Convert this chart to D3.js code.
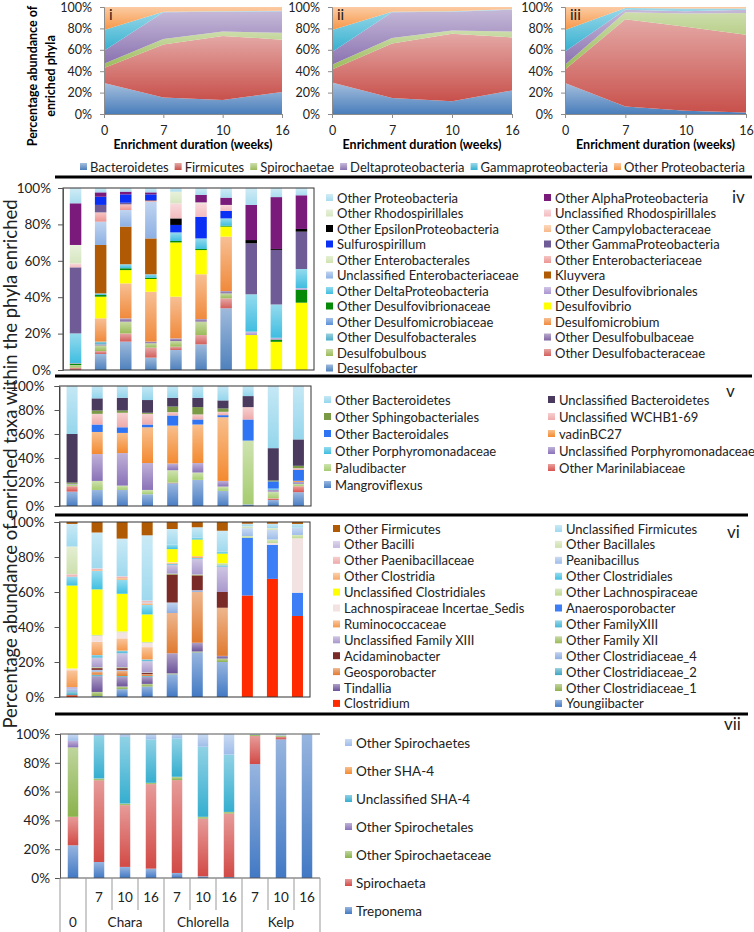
<!DOCTYPE html>
<html>
<head>
<meta charset="utf-8">
<script src="https://cdnjs.cloudflare.com/ajax/libs/d3/7.8.5/d3.min.js"></script>
<style>
body { margin: 0; background: #fff; }
svg { font-family: Lato, "Open Sans", sans-serif; }
</style>
</head>
<body>
<svg id="chart" width="754" height="932"></svg>
<script>

// ---- top area charts (phyla) ----
const weeks = ["0", "7", "10", "16"];
const phyla = ["Bacteroidetes", "Firmicutes", "Spirochaetae", "Deltaproteobacteria", "Gammaproteobacteria", "Other Proteobacteria"];
const phylaColors = ["#4a7ebb", "#c8504b", "#9bbb59", "#8a72b0", "#35b0d0", "#f79646"];

const phylaI = [
    [29, 15.5, 13, 20.5],
    [14, 49.5, 60, 49],
    [4, 5, 4, 6.5],
    [12, 25, 18.5, 20],
    [19.5, 0.5, 0.5, 0.5],
    [21.5, 4.5, 4, 3.5],
];
const phylaII = [
    [29.5, 15, 12, 22],
    [12, 51, 63, 49.5],
    [4.5, 5, 3, 5.5],
    [12, 24, 17.5, 20.5],
    [20.5, 0.5, 0.5, 0.5],
    [21.5, 4.5, 4, 2],
];
const phylaIII = [
    [29, 7, 3, 1.5],
    [12.5, 81.5, 78.5, 72.5],
    [4.5, 6.5, 12.5, 20.5],
    [12.5, 2.5, 2, 3],
    [20, 1.5, 2.5, 1],
    [21.5, 1, 1.5, 1.5],
];

// ---- bar panels ----
const samples = ["0", "Chara 7", "Chara 10", "Chara 16", "Chlorella 7", "Chlorella 10", "Chlorella 16", "Kelp 7", "Kelp 10", "Kelp 16"];
const weekLabels = ["", "7", "10", "16", "7", "10", "16", "7", "10", "16"];
const groupNames = ["0", "Chara", "Chlorella", "Kelp"];
const groupSizes = [1, 3, 3, 3];

// panel iv, stack order bottom -> top
const ivNames = ["Desulfobacter", "Other Desulfobacteraceae", "Desulfobulbous", "Other Desulfobulbaceae",
    "Other Desulfobacterales", "Desulfomicrobium", "Other Desulfomicrobiaceae", "Desulfovibrio",
    "Other Desulfovibrionaceae", "Other Desulfovibrionales", "Other DeltaProteobacteria", "Kluyvera",
    "Unclassified Enterobacteriaceae", "Other Enterobacteriaceae", "Other Enterobacterales",
    "Other GammaProteobacteria", "Sulfurospirillum", "Other Campylobacteraceae", "Other EpsilonProteobacteria",
    "Unclassified Rhodospirillales", "Other Rhodospirillales", "Other AlphaProteobacteria", "Other Proteobacteria"];
const ivColors = ["#4f81bd", "#d25f5c", "#9bbb59", "#8064a2", "#4bacc6", "#f08a3c", "#5b8fd8", "#ffff00",
    "#078a07", "#a994d0", "#3fbde0", "#b05a05", "#8db0e3", "#ec9592", "#cfe3b0", "#6f5b95", "#0b30f5",
    "#f9b888", "#000000", "#f3bcbf", "#d6e6c0", "#7a1a7b", "#a9dcef"];
const ivValues = [
    [0, 8.8, 15.6, 6.8, 11.0, 14.1, 33.9, 0, 0, 0],
    [1.3, 1.6, 4.5, 5.5, 1.8, 5.1, 5.5, 0, 0, 0],
    [1.4, 3.1, 6.5, 2.4, 3.1, 7.4, 2.7, 0, 0, 0],
    [0, 0.6, 1.8, 0.9, 1.5, 1.4, 1.3, 0, 0, 0],
    [0, 1.5, 0, 0, 0, 0, 0, 0, 0, 0],
    [0, 12.8, 19.2, 27.4, 22.9, 24.6, 29.9, 0, 0, 0],
    [0, 0, 0, 0, 0, 0, 0, 0, 0, 0],
    [0, 11.9, 7.3, 7.0, 29.8, 13.3, 5.5, 19.2, 15.5, 37],
    [0.8, 0.9, 1.0, 0.7, 0.8, 0.6, 0.5, 0, 1.2, 7],
    [0.3, 0, 0, 0, 0, 0, 0, 1.9, 1.0, 1],
    [16.3, 0.9, 2.2, 1.9, 4.7, 5.8, 4.0, 20.5, 18.3, 10.5],
    [0, 26.6, 20.7, 19.7, 0, 0, 0, 0, 0, 0],
    [0, 12.8, 9.1, 20.2, 0, 0, 0, 0, 0, 0],
    [0, 5.1, 3.1, 0.4, 0, 0, 0, 0, 0, 0],
    [0, 0, 0, 0, 0, 0, 0, 0, 0, 0],
    [36.3, 4.1, 0.9, 0.5, 0, 0, 0, 28.0, 30, 20.5],
    [0, 4.5, 4.6, 3.1, 4.1, 11.9, 4.1, 0, 0, 0],
    [0, 0, 0, 0, 0, 0, 0, 0, 0, 0],
    [0, 0, 0, 0, 3.6, 0, 0, 1.8, 0.5, 1.5],
    [2.2, 0, 0, 0, 8.3, 7.4, 3.3, 0, 0, 0],
    [10.1, 0, 0, 0, 6.4, 0.5, 0, 0, 0, 0],
    [22.9, 2.4, 1.5, 1.1, 0, 4.1, 4.0, 19.3, 28.5, 18.5],
    [8.4, 2.4, 2.0, 2.4, 2.0, 3.8, 5.3, 9.3, 5.0, 4.0],
];

// panel v
const vNames = ["Mangroviflexus", "Other Marinilabiaceae", "Paludibacter", "Unclassified Porphyromonadaceae",
    "Other Porphyromonadaceae", "vadinBC27", "Other Bacteroidales", "Unclassified WCHB1-69",
    "Other Sphingobacteriales", "Unclassified Bacteroidetes", "Other Bacteroidetes"];
const vColors = ["#4a7ec4", "#d9534f", "#a6cc70", "#8a72b8", "#3fbde0", "#f38a30", "#2f74f2", "#efaaaa",
    "#7a9a45", "#4a3b5e", "#95d6ec"];
const vValues = [
    [12, 13.4, 13.4, 9.8, 19.0, 21.8, 12.6, 1.4, 5.0, 11.5],
    [4.5, 0, 0, 0, 0.5, 0, 0, 0, 1.4, 5],
    [1.5, 7.5, 3.6, 3.6, 10.3, 6.1, 3.6, 53.1, 5.6, 2],
    [0.5, 22.4, 27.1, 22.4, 5.6, 7.9, 4.7, 0, 1.5, 1.5],
    [0, 0, 0, 0, 0, 0, 0, 0, 1.0, 0],
    [0, 18.4, 16.8, 29.8, 31.6, 32.1, 53.1, 0, 0, 1],
    [0, 6.2, 4.7, 2.3, 8.4, 4.2, 1.7, 17.6, 6.0, 9],
    [0, 8.9, 12.1, 8.9, 2.8, 4.2, 2.8, 10.3, 0, 1.5],
    [1, 2.8, 1.9, 0.9, 4.7, 6.1, 2.8, 0, 0.8, 2],
    [40.5, 10.1, 10.6, 10.6, 7.3, 7.8, 6.7, 9.2, 26.9, 22],
    [40, 10.3, 9.8, 11.7, 9.8, 9.8, 12.0, 8.4, 51.8, 44.5],
];

// panel vi
const viNames = ["Youngiibacter", "Clostridium", "Other Clostridiaceae_1", "Tindallia", "Other Clostridiaceae_2",
    "Geosporobacter", "Other Clostridiaceae_4", "Acidaminobacter", "Other Family XII", "Unclassified Family XIII",
    "Other FamilyXIII", "Ruminococcaceae", "Anaerosporobacter", "Lachnospiraceae Incertae_Sedis",
    "Other Lachnospiraceae", "Unclassified Clostridiales", "Other Clostridiales", "Other Clostridia",
    "Peanibacillus", "Other Paenibacillaceae", "Other Bacillales", "Other Bacilli", "Unclassified Firmicutes",
    "Other Firmicutes"];
const viColors = ["#4279c4", "#ff2a00", "#8fb04c", "#6c5399", "#3ea6c0", "#e07a30", "#8eaee0", "#7b2b27",
    "#9bbb59", "#a898cc", "#45b6d6", "#f4984c", "#3b7ef5", "#f3e2e2", "#bcd890", "#ffff00", "#40c0e2",
    "#f7a96a", "#9fbde9", "#efa8a8", "#cde0ae", "#c3b7dd", "#9fd9ee", "#b05a04"];
const viValues = [
    [0, 0.6, 4.5, 6.0, 13.0, 25.5, 20.0, 0, 0, 0],
    [1.0, 0, 0, 0, 0, 0, 0, 58.0, 67.5, 46.3],
    [0, 2.3, 1.5, 1.5, 0.5, 0.5, 2.0, 0, 0, 0],
    [0, 9.0, 5.5, 4.0, 11.5, 5.0, 1.5, 0, 0, 0],
    [1.9, 0.8, 0.5, 0.5, 0, 0, 0, 0, 0, 0],
    [0, 1.8, 3.0, 1.0, 23.0, 29.0, 27.5, 0, 0, 0],
    [1.9, 1.0, 0.5, 0, 6.0, 1.0, 0, 0, 0, 0],
    [0, 1.0, 1.0, 0.7, 16.0, 8.5, 9.0, 0, 0, 0],
    [0, 0.5, 0.5, 0.3, 0.5, 0.5, 0, 0, 0, 0],
    [0.9, 5.5, 8.0, 6.5, 5.0, 9.0, 14.5, 0, 0, 0],
    [0, 1.5, 1.5, 1.0, 0.5, 0.5, 0.8, 0, 0, 0],
    [9.6, 7.5, 7.0, 7.0, 0.5, 1.0, 0, 0, 0, 0],
    [0, 0, 0, 0, 0, 0, 0, 33.0, 19.5, 13.3],
    [1.0, 3.5, 3.5, 2.5, 0.5, 0, 0, 0, 1.0, 31.1],
    [0, 0.5, 0.5, 0.5, 0, 0, 1.2, 1.0, 2.0, 1.9],
    [47.4, 26.0, 21.5, 15.7, 7.5, 9.5, 5.5, 0, 0, 0],
    [5.1, 10.5, 8.0, 5.4, 2.5, 1.0, 1.0, 0, 0, 0],
    [0, 0.5, 1.0, 1.0, 0, 0, 0, 0, 0, 0],
    [0, 0, 0, 0.5, 0, 0, 0, 4.5, 5.5, 4.2],
    [1.4, 1.0, 1.0, 1.0, 0, 0, 0, 0, 0, 0],
    [15.8, 0, 0, 0, 0, 0, 0, 1.0, 1.0, 0],
    [0, 0, 0, 0, 0, 0, 0, 0, 0, 0],
    [12.9, 20.5, 21.5, 37.3, 9.0, 6.0, 12.0, 1.5, 2.5, 2.1],
    [1.1, 6.0, 9.5, 7.6, 4.0, 3.0, 5.0, 1.0, 1.0, 1.1],
];

// panel vii
const viiNames = ["Treponema", "Spirochaeta", "Other Spirochaetaceae", "Other Spirochetales",
    "Unclassified SHA-4", "Other SHA-4", "Other Spirochaetes"];
const viiColors = ["#4279c4", "#d24a46", "#8ab24c", "#8a72b8", "#35aecf", "#f38a30", "#9fbde9"];
const viiValues = [
    [22.7, 11.1, 7.7, 6.5, 3.5, 1.2, 0.7, 79.1, 96.3, 99.5],
    [19.8, 56.8, 42.9, 58.7, 64.5, 40.1, 44.1, 19.5, 1.8, 0],
    [48.2, 1.2, 1.1, 0.9, 2.3, 1.2, 1.1, 0.9, 0.9, 0],
    [4.5, 0, 0, 0, 0, 0, 0, 0, 0, 0],
    [0, 29.5, 46.4, 30.2, 26.7, 48.7, 39.9, 0, 0, 0],
    [0, 0, 0, 0, 0, 0, 0, 0, 0, 0],
    [4.8, 1.4, 1.9, 3.7, 3.0, 8.8, 14.2, 0.5, 1.0, 0.5],
];

const pctTicks = [0, 20, 40, 60, 80, 100];
// colours that Excel drew without a gradient
const flatColors = new Set(["#ffff00", "#000000", "#0b30f5", "#7a1a7b", "#6f5b95", "#078a07", "#b05a05",
    "#b05a04", "#ff2a00", "#7b2b27", "#3b7ef5", "#2f74f2", "#4a3b5e", "#7a9a45", "#f3e2e2"]);

const svg = d3.select("#chart");
const defs = svg.append("defs");

function paint(color, light) {
    if (flatColors.has(color)) return color;
    light = light || 0.45;
    const id = "g" + color.replace("#", "") + Math.round(light * 100);
    if (defs.select("#" + id).empty()) {
        const g = defs.append("linearGradient").attr("id", id)
            .attr("x1", 0).attr("y1", 0).attr("x2", 0).attr("y2", 1);
        g.append("stop").attr("offset", "0%").attr("stop-color", d3.interpolateRgb(color, "#ffffff")(light));
        g.append("stop").attr("offset", "100%").attr("stop-color", color);
    }
    return "url(#" + id + ")";
}

function styleAxis(g, color, size) {
    g.select(".domain").attr("stroke", color);
    g.selectAll(".tick line").attr("stroke", color);
    g.selectAll(".tick text").attr("fill", "#222").style("font-size", size + "px").style("font-family", "Lato");
}

function buildAreaChart(values, left, right, tag) {
    const x = d3.scalePoint().domain(weeks).range([left, right]);
    const y = d3.scaleLinear().domain([0, 100]).range([114, 7]);

    const table = weeks.map(function(w, j) {
        const row = { week: w };
        phyla.forEach(function(p, i) { row[p] = values[i][j]; });
        return row;
    });
    const series = d3.stack().keys(phyla)(table);
    const area = d3.area()
        .x(function(d) { return x(d.data.week); })
        .y0(function(d) { return y(d[0]); })
        .y1(function(d) { return y(d[1]); });

    const g = svg.append("g");
    g.selectAll("path.layer")
        .data(series)
        .enter()
        .append("path")
        .attr("class", "layer")
        .attr("d", area)
        .attr("fill", function(d, i) { return paint(phylaColors[i], 0.5); });

    g.append("g")
        .attr("transform", "translate(" + left + ",0)")
        .call(d3.axisLeft(y).tickValues(pctTicks).tickFormat(function(d) { return d + "%"; }).tickSize(4).tickPadding(8))
        .call(styleAxis, "#8c8c8c", 12.5);

    g.append("g")
        .attr("transform", "translate(0,114)")
        .call(d3.axisBottom(x).tickSize(4).tickPadding(8))
        .call(styleAxis, "#8c8c8c", 12.5);

    g.append("text")
        .attr("x", (left + right) / 2)
        .attr("y", 149)
        .attr("text-anchor", "middle")
        .style("font-size", "12.5px")
        .style("font-weight", "bold")
        .text("Enrichment duration (weeks)");

    g.append("text")
        .attr("x", left + 5)
        .attr("y", 20)
        .style("font-size", "15px")
        .attr("fill", "#222")
        .text(tag);
}

function buildBars(opts) {
    const x = d3.scaleBand().domain(samples).range([opts.left, opts.right]);
    const y = d3.scaleLinear().domain([0, 100]).range([opts.bottom, opts.top]);
    const barW = opts.barW;

    const table = samples.map(function(s, j) {
        const row = { sample: s };
        opts.names.forEach(function(n, i) { row[n] = opts.values[i][j]; });
        return row;
    });
    const series = d3.stack().keys(opts.names)(table);

    const g = svg.append("g");
    g.selectAll("g.series")
        .data(series)
        .enter()
        .append("g")
        .attr("fill", function(d, i) { return paint(opts.colors[i]); })
        .selectAll("rect")
        .data(function(d) { return d; })
        .enter()
        .append("rect")
        .attr("x", function(d) { return x(d.data.sample) + (x.bandwidth() - barW) / 2; })
        .attr("y", function(d) { return y(d[1]); })
        .attr("width", barW)
        .attr("height", function(d) { return Math.max(0, y(d[0]) - y(d[1])); });

    if (opts.frame) {
        g.append("rect")
            .attr("x", opts.left).attr("y", opts.top)
            .attr("width", opts.right - opts.left).attr("height", opts.bottom - opts.top)
            .attr("fill", "none").attr("stroke", "#333").attr("stroke-width", 1);
    }

    g.append("g")
        .attr("transform", "translate(" + opts.left + ",0)")
        .call(d3.axisLeft(y).tickValues(pctTicks).tickFormat(function(d) { return d + "%"; }).tickSize(5).tickPadding(opts.pad))
        .call(styleAxis, "#555", 13.5);

    // legend: reverse of stack order, filled row by row
    const legendNames = opts.names.slice().reverse();
    const cols = opts.legendCols.length;
    legendNames.forEach(function(n, k) {
        const idx = opts.names.length - 1 - k;
        const lx = opts.legendCols[k % cols];
        const ly = opts.legendTop + Math.floor(k / cols) * opts.legendStep;
        g.append("rect")
            .attr("x", lx).attr("y", ly - 4)
            .attr("width", 7).attr("height", 7)
            .attr("fill", paint(opts.colors[idx]));
        g.append("text")
            .attr("x", lx + 11).attr("y", ly)
            .attr("dy", "0.35em")
            .attr("fill", "#222")
            .style("font-size", opts.legendSize + "px")
            .text(n);
    });

    g.append("text")
        .attr("x", opts.tagX).attr("y", opts.tagY)
        .attr("dy", "0.35em")
        .attr("fill", "#222")
        .style("font-size", "17px")
        .text(opts.tag);

    return { x: x, y: y, g: g };
}

// ---- draw ----
buildAreaChart(phylaI, 104, 282, "i");
buildAreaChart(phylaII, 332, 512, "ii");
buildAreaChart(phylaIII, 565, 746, "iii");

svg.append("text")
    .attr("transform", "translate(37,76) rotate(-90)")
    .attr("text-anchor", "middle")
    .style("font-size", "12.5px").style("font-weight", "bold")
    .text("Percentage abundance of");
svg.append("text")
    .attr("transform", "translate(55,76) rotate(-90)")
    .attr("text-anchor", "middle")
    .style("font-size", "12.5px").style("font-weight", "bold")
    .text("enriched phyla");

// phyla legend, flowing left to right
let lx = 80;
phyla.forEach(function(p, i) {
    svg.append("rect").attr("x", lx).attr("y", 163).attr("width", 7).attr("height", 7)
        .attr("fill", paint(phylaColors[i], 0.5));
    const t = svg.append("text").attr("x", lx + 10).attr("y", 167).attr("dy", "0.35em")
        .style("font-size", "13px").attr("fill", "#222").text(p);
    lx += 10 + t.node().getComputedTextLength() + 6;
});

// separators
[[177, 752], [376, 752], [515, 748], [714, 748]].forEach(function(s) {
    svg.append("line").attr("x1", 55).attr("x2", s[1]).attr("y1", s[0]).attr("y2", s[0])
        .attr("stroke", "#000").attr("stroke-width", 3);
});

buildBars({
    names: ivNames, colors: ivColors, values: ivValues,
    left: 63, right: 314, top: 188, bottom: 370, barW: 11.5, pad: 7, frame: true,
    legendCols: [326, 544], legendTop: 198, legendStep: 15.5, legendSize: 13,
    tag: "iv", tagX: 732, tagY: 197,
});

buildBars({
    names: vNames, colors: vColors, values: vValues,
    left: 59.5, right: 311, top: 386, bottom: 506, barW: 11, pad: 10, frame: true,
    legendCols: [324, 548], legendTop: 400, legendStep: 17, legendSize: 13,
    tag: "v", tagX: 726, tagY: 391,
});

buildBars({
    names: viNames, colors: viColors, values: viValues,
    left: 59.5, right: 310, top: 522, bottom: 697, barW: 11, pad: 10, frame: true,
    legendCols: [333, 555], legendTop: 529, legendStep: 15.9, legendSize: 13,
    tag: "vi", tagX: 727, tagY: 532,
});

const vii = buildBars({
    names: viiNames, colors: viiColors, values: viiValues,
    left: 60, right: 320, top: 734, bottom: 878, barW: 10.5, pad: 5, frame: false,
    legendCols: [345], legendTop: 743, legendStep: 28, legendSize: 13.5,
    tag: "vii", tagX: 724, tagY: 724,
});

// panel vii: top border and two-level category axis
vii.g.append("line").attr("x1", 60).attr("x2", 320).attr("y1", 734).attr("y2", 734)
    .attr("stroke", "#555");
vii.g.append("line").attr("x1", 60).attr("x2", 320).attr("y1", 878).attr("y2", 878)
    .attr("stroke", "#555");

const step = vii.x.step();
const groupEdges = [0];
groupSizes.forEach(function(n) { groupEdges.push(groupEdges[groupEdges.length - 1] + n); });
for (let k = 0; k <= samples.length; k++) {
    const xx = 60 + k * step;
    vii.g.append("line")
        .attr("x1", xx).attr("x2", xx)
        .attr("y1", 878).attr("y2", groupEdges.indexOf(k) >= 0 ? 932 : 910)
        .attr("stroke", "#999");
}
samples.forEach(function(s, i) {
    vii.g.append("text")
        .attr("x", vii.x(s) + step / 2).attr("y", 897).attr("dy", "0.35em")
        .attr("text-anchor", "middle").style("font-size", "13.5px").attr("fill", "#222")
        .text(weekLabels[i]);
});
groupNames.forEach(function(n, i) {
    const mid = 60 + (groupEdges[i] + groupEdges[i + 1]) / 2 * step;
    vii.g.append("text")
        .attr("x", mid).attr("y", 922).attr("dy", "0.35em")
        .attr("text-anchor", "middle").style("font-size", "13.5px").attr("fill", "#222")
        .text(n);
});

// shared y title for the bar panels
svg.append("text")
    .attr("transform", "translate(17,464) rotate(-90)")
    .attr("text-anchor", "middle")
    .style("font-size", "18.5px")
    .attr("fill", "#222")
    .text("Percentage abundance of enriched taxa within the phyla enriched");

</script>
</body>
</html>
